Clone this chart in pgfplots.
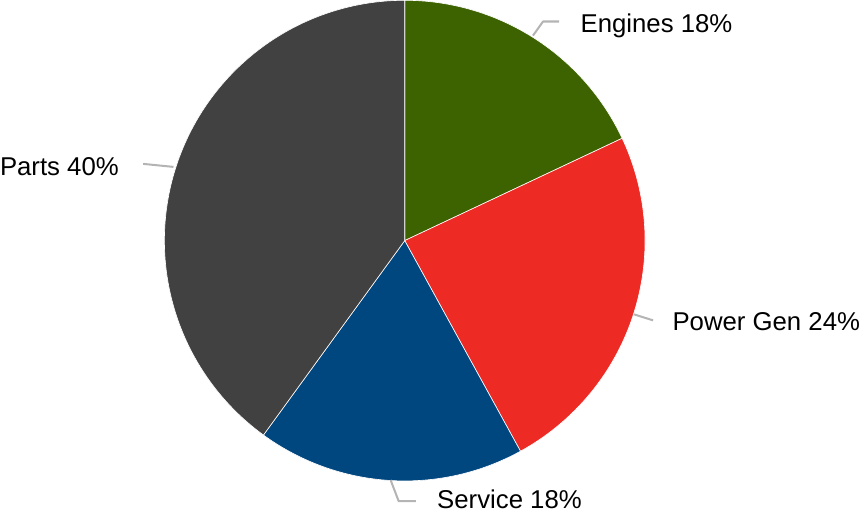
\documentclass[border=0pt]{standalone}
\usepackage{fontspec}
\setmainfont{Liberation Sans}
\usepackage{pgfplots}
\usepackage{pgfplotstable}
\pgfplotsset{compat=1.18}
\definecolor{cEng}{HTML}{3D6300}
\definecolor{cPow}{HTML}{EE2A24}
\definecolor{cSer}{HTML}{00467F}
\definecolor{cPar}{HTML}{414141}
\definecolor{cLead}{HTML}{B4B4B4}
\pgfplotstableread{
label value
Engines 18
PowerGen 24
Service 18
Parts 40
}\piedata
\begin{document}
\begin{tikzpicture}
\pgfplotstablegetelem{0}{value}\of\piedata \let\vA\pgfplotsretval
\pgfplotstablegetelem{1}{value}\of\piedata \let\vB\pgfplotsretval
\pgfplotstablegetelem{2}{value}\of\piedata \let\vC\pgfplotsretval
\pgfplotstablegetelem{3}{value}\of\piedata \let\vD\pgfplotsretval
\pgfmathsetmacro\aO{90}
\pgfmathsetmacro\aA{\aO-3.6*\vA}
\pgfmathsetmacro\aB{\aA-3.6*\vB}
\pgfmathsetmacro\aC{\aB-3.6*\vC}
\pgfmathsetmacro\aD{\aC-3.6*\vD}
\begin{axis}[
  scale only axis, width=860pt, height=513pt,
  xmin=0, xmax=860, ymin=0, ymax=513,
  hide axis, clip=false,
  every axis plot/.append style={line join=round},
]
\addplot[fill=cEng, draw=white, line width=0.6pt, domain=\aA:\aO, samples=90, variable=\t]
  ({406+238*cos(\t)},{273+238*sin(\t)}) -- (axis cs:406,273) -- cycle;
\addplot[fill=cPow, draw=white, line width=0.6pt, domain=\aB:\aA, samples=90, variable=\t]
  ({406+238*cos(\t)},{273+238*sin(\t)}) -- (axis cs:406,273) -- cycle;
\addplot[fill=cSer, draw=white, line width=0.6pt, domain=\aC:\aB, samples=90, variable=\t]
  ({406+238*cos(\t)},{273+238*sin(\t)}) -- (axis cs:406,273) -- cycle;
\addplot[fill=cPar, draw=white, line width=0.6pt, domain=\aD:\aC, samples=150, variable=\t]
  ({406+238*cos(\t)},{273+238*sin(\t)}) -- (axis cs:406,273) -- cycle;
% leader lines
\addplot[cLead, line width=2pt] coordinates {(533,476) (543,490) (559,490)};
\addplot[cLead, line width=2pt] coordinates {(633,200) (652,194)};
\addplot[cLead, line width=2pt] coordinates {(392,36) (400,15) (417,15)};
\addplot[cLead, line width=2pt] coordinates {(147,349) (177,346)};
% labels
\node[anchor=base west, inner sep=0pt, font=\fontsize{25.5}{30}\selectfont] at (axis cs:580,479) {Engines 18\%};
\node[anchor=base west, inner sep=0pt, font=\fontsize{25.5}{30}\selectfont] at (axis cs:671,184) {Power Gen 24\%};
\node[anchor=base west, inner sep=0pt, font=\fontsize{25.5}{30}\selectfont] at (axis cs:438,8) {Service 18\%};
\node[anchor=base west, inner sep=0pt, font=\fontsize{25.5}{30}\selectfont] at (axis cs:5,337) {Parts 40\%};
\end{axis}
\end{tikzpicture}
\end{document}
